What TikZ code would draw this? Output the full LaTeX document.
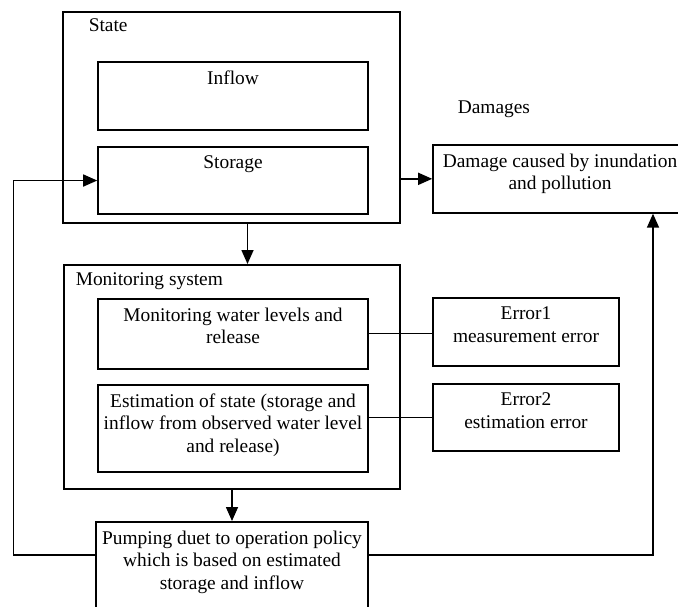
\documentclass[tikz,border=0pt]{standalone}
\usepackage{fontspec}
\setmainfont{Liberation Serif}
\usetikzlibrary{positioning, arrows.meta}

\tikzset{
    box/.style={rectangle, draw, anchor=north, align=center, inner xsep=6pt, inner ysep=9pt},
    frame/.style={rectangle, draw, anchor=north, inner sep=0pt},
    title/.style={anchor=base west, inner sep=0pt},
}

\begin{document}
\begin{tikzpicture}[-,>={Triangle[length=14pt,width=12pt]},x=1pt,y=-1pt,line width=1.6pt,
        every node/.style={font=\fontsize{19.4pt}{22.5pt}\selectfont}]
        \useasboundingbox (0,0) rectangle (678,606);
        \clip (0,0) rectangle (678,606);

        % state
        \node at (231.5,11) [frame, minimum width=337pt, minimum height=211pt] (state) {};
        \node at (88,31.5) [title] (state_title) {State};
        \node at (233,61) [box, minimum width=270pt, text depth=36.6pt] (inflow) {Inflow};
        \node at (233,146) [box, minimum width=270pt, text depth=36.6pt] (storage) {Storage};

        % damages
        \node at (457,113) [title] (damage_title) {Damages};
        \node at (560,144) [box, minimum width=254pt, text depth=14.1pt] (damage) {Damage caused by inundation\\and pollution};

        % monitoring system
        \node at (232,264) [frame, minimum width=336pt, minimum height=224pt] (monitor) {};
        \node at (75,285) [title] (monitor_title) {Monitoring system};
        \node at (233,298) [box, minimum width=270pt, text depth=16.1pt] (mon_levels) {Monitoring water levels and\\release};
        \node at (233,384) [box, minimum width=270pt, text depth=10.6pt] (estimation) {Estimation of state (storage and\\inflow from observed water level\\and release)};

        % errors
        \node at (526,297) [box, minimum width=186pt, text depth=15.1pt] (error1) {Error1\\measurement error};
        \node at (526,383) [box, minimum width=186pt, text depth=14.1pt] (error2) {Error2\\estimation error};

        % pumping
        \node at (232,521) [box, minimum width=270pt, text depth=22.6pt] (pumping) {Pumping duet to operation policy\\which is based on estimated\\storage and inflow};

        \coordinate (pump_l) at ([yshift=-34pt]pumping.north west);
        \coordinate (pump_r) at ([yshift=-34pt]pumping.north east);

        \draw[->]   ([xshift=16pt]state.south) -- ([xshift=16pt]state.south |- monitor.north);
        \draw[->]   (state.east |- damage.west) -- (damage.west);
        \draw[->]   (monitor.south) -- (pumping.north);
        \draw[->]   (pump_l) -- ++(-82,0) |- (storage.west);
        \draw[->]   (pump_r) -| ([xshift=93pt]damage.south);

        \draw[line width=1.1pt]   (mon_levels.east) -- (mon_levels.east -| error1.west)
                                  (error2.west -| estimation.east) -- (error2.west);
    \end{tikzpicture}
\end{document}
